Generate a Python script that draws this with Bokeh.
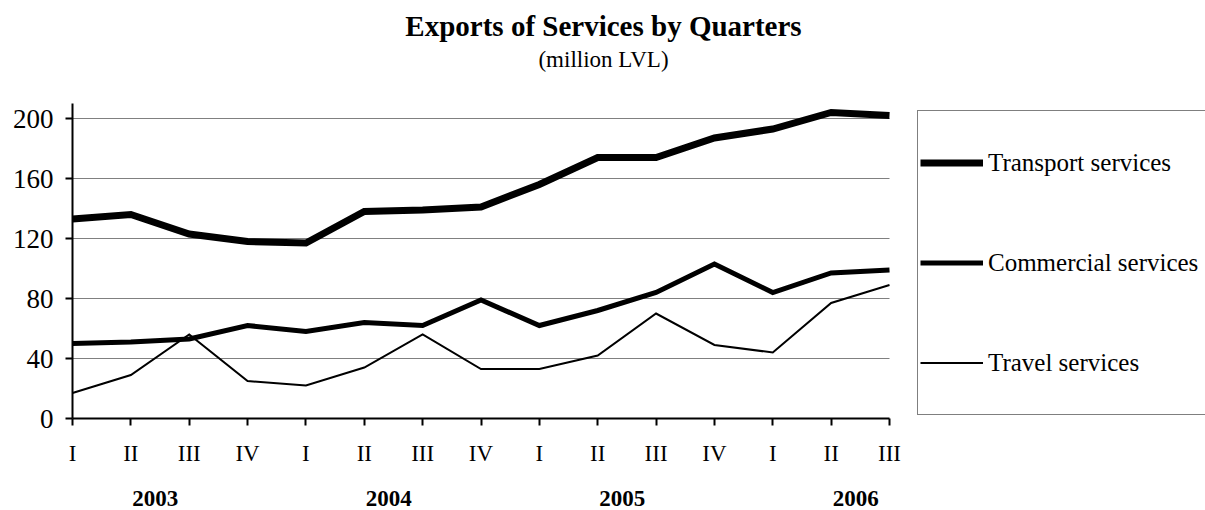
from bokeh.plotting import figure
from bokeh.models import Range1d, FixedTicker, LinearAxis, Legend, LegendItem, Label
from bokeh.embed import file_html
from bokeh.resources import INLINE

quarters = ["I", "II", "III", "IV", "I", "II", "III", "IV",
            "I", "II", "III", "IV", "I", "II", "III"]
years = ["2003", "2004", "2005", "2006"]
transport = [133, 136, 123, 118, 117, 138, 139, 141, 156, 174, 174, 187, 193, 204, 202]
commercial = [50, 51, 53, 62, 58, 64, 62, 79, 62, 72, 84, 103, 84, 97, 99]
travel = [17, 29, 56, 25, 22, 34, 56, 33, 33, 42, 70, 49, 44, 77, 89]
y_ticks = [0, 40, 80, 120, 160, 200]
y_max = 210

FONT = "Liberation Serif"
x = list(range(len(quarters)))
x_last = len(quarters) - 1
year_pos = [4 * i + 1.42 for i in range(len(years))]

# layout geometry (pixels)
W, H = 1205, 510
left, plot_right, plot_top, bottom = 72, 889, 103, 418
x_end = x_last * (W - left) / (plot_right - left)
y_end = y_max * bottom / (bottom - plot_top)

p = figure(width=W, height=H, output_backend="svg", toolbar_location=None,
           x_range=Range1d(0, x_end), y_range=Range1d(0, y_end),
           min_border_left=left, min_border_right=0, min_border_top=0,
           min_border_bottom=H - bottom)
p.outline_line_color = None
p.background_fill_color = "white"
p.border_fill_color = "white"
p.title.visible = False

# grid
p.xgrid.visible = False
p.ygrid.ticker = FixedTicker(ticks=y_ticks)
p.ygrid.grid_line_color = "#808080"
p.ygrid.grid_line_width = 1
p.ygrid.cross_bounds = (0, x_last)

# y axis
ya = p.yaxis[0]
ya.bounds = (0, y_max)
ya.ticker = FixedTicker(ticks=y_ticks)
ya.axis_line_color = "black"
ya.axis_line_width = 2
ya.major_tick_line_color = "black"
ya.major_tick_line_width = 2
ya.major_tick_in = 0
ya.major_tick_out = 7
ya.minor_tick_line_color = None
ya.major_label_text_font = FONT
ya.major_label_text_font_size = "27px"
ya.major_label_text_color = "black"
ya.major_label_standoff = 12

# x axis (quarters)
xa = p.xaxis[0]
xa.bounds = (0, x_last)
xa.ticker = FixedTicker(ticks=x)
xa.major_label_overrides = {i: q for i, q in enumerate(quarters)}
xa.axis_line_color = "black"
xa.axis_line_width = 2
xa.major_tick_line_color = "black"
xa.major_tick_line_width = 2
xa.major_tick_in = 0
xa.major_tick_out = 7
xa.minor_tick_line_color = None
xa.major_label_text_font = FONT
xa.major_label_text_font_size = "23px"
xa.major_label_text_color = "black"
xa.major_label_standoff = 15

# year axis
yr_axis = LinearAxis(ticker=FixedTicker(ticks=year_pos),
                     major_label_overrides={pos: y for pos, y in zip(year_pos, years)})
yr_axis.axis_line_color = None
yr_axis.major_tick_line_color = None
yr_axis.minor_tick_line_color = None
yr_axis.major_label_text_font = FONT
yr_axis.major_label_text_font_size = "23px"
yr_axis.major_label_text_font_style = "bold"
yr_axis.major_label_text_color = "black"
yr_axis.major_label_standoff = 16
p.add_layout(yr_axis, "below")

# lines
r_tr = p.line(x, transport, line_color="black", line_width=7, line_join="miter")
r_co = p.line(x, commercial, line_color="black", line_width=5, line_join="miter")
r_tv = p.line(x, travel, line_color="black", line_width=2, line_join="miter")

legend = Legend(items=[LegendItem(label="Transport services", renderers=[r_tr]),
                       LegendItem(label="Commercial services", renderers=[r_co]),
                       LegendItem(label="Travel services", renderers=[r_tv])],
                location=(917 - left, 3))
legend.border_line_color = "black"
legend.border_line_width = 1
legend.background_fill_color = "white"
legend.background_fill_alpha = 1
legend.label_text_font = FONT
legend.label_text_font_size = "25px"
legend.label_text_color = "black"
legend.glyph_width = 63
legend.glyph_height = 99
legend.label_height = 99
legend.label_width = 300
legend.label_standoff = 5
legend.spacing = 1
legend.padding = 2
legend.margin = 0
p.add_layout(legend)

# titles
p.add_layout(Label(x=603 - left, y=bottom - 25, x_units="screen", y_units="screen",
                   text="Exports of Services by Quarters", text_align="center",
                   text_baseline="middle", text_font=FONT, text_font_size="29px",
                   text_font_style="bold", text_color="black"))
p.add_layout(Label(x=603 - left, y=bottom - 59, x_units="screen", y_units="screen",
                   text="(million LVL)", text_align="center",
                   text_baseline="middle", text_font=FONT, text_font_size="23px",
                   text_color="black"))

open("out.html", "w").write(file_html(p, INLINE))
